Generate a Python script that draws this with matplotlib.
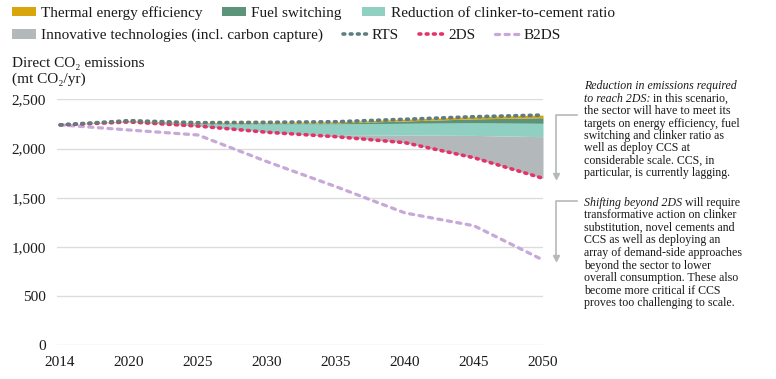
import matplotlib
matplotlib.use('Agg')
import matplotlib.pyplot as plt
import numpy as np

plt.rcParams['font.family'] = ['Liberation Serif', 'DejaVu Serif']
plt.rcParams['text.color'] = '#1a1a1a'

years = ['2014', '2020', '2025', '2030', '2035', '2040', '2045', '2050']
rts = [2240, 2283, 2262, 2266, 2272, 2297, 2323, 2340]
two_ds = [2240, 2270, 2228, 2165, 2120, 2059, 1906, 1697]
b2ds = [2240, 2188, 2137, 1866, 1612, 1345, 1215, 867]
# wedges between 2DS (bottom) and RTS (top)
innovative = [0, 0, 0, 5, 20, 78, 227, 423]
clinker = [0, 3, 23, 80, 110, 119, 128, 136]
fuel = [0, 2, 3, 6, 10, 24, 40, 57]
thermal = [0, 8, 8, 10, 12, 17, 22, 27]

W, H = 776, 379
fig = plt.figure(figsize=(W / 100, H / 100), dpi=100)
ax = fig.add_axes([57 / W, 1 - 345.3 / H, (543 - 57) / W, (345.3 - 99.3) / H])

x = np.arange(len(years))
layers = [
	(innovative, '#b3b9ba', 'Innovative technologies (incl. carbon capture)'),
	(clinker, '#8fd0c3', 'Reduction of clinker-to-cement ratio'),
	(fuel, '#5b9478', 'Fuel switching'),
	(thermal, '#d8a60c', 'Thermal energy efficiency'),
]
base = np.array(two_ds, dtype=float)
fills = {}
for vals, col, lab in layers:
	top = base + np.array(vals)
	fills[lab] = ax.fill_between(x, base, top, color=col, lw=0, label=lab, zorder=2)
	base = top

l_b2 = ax.plot(x, b2ds, color='#c7a8d8', lw=2.3, ls=(0, (1.3, 1.7)), dash_capstyle='round', zorder=3, label='B2DS')[0]
l_2 = ax.plot(x, two_ds, color='#e5336a', lw=2.6, ls=(0, (0.5, 1.5)), dash_capstyle='round', zorder=4, label='2DS')[0]
l_rts = ax.plot(x, rts, color='#5f7d80', lw=2.6, ls=(0, (0.5, 1.5)), dash_capstyle='round', zorder=5, label='RTS')[0]

ax.set_xlim(-0.045, 7.0)
ax.set_ylim(0, 2500)
ax.set_xticks(x)
ax.set_xticklabels(years)
ax.set_yticks([0, 500, 1000, 1500, 2000, 2500])
ax.set_yticklabels(['0', '500', '1,000', '1,500', '2,000', '2,500'])
ax.tick_params(length=0, labelsize=11, colors='#1a1a1a')
ax.tick_params(axis='x', pad=8)
ax.tick_params(axis='y', pad=8)
ax.grid(axis='y', color='#dcdcdc', lw=1)
ax.set_axisbelow(True)
for s in ax.spines.values():
	s.set_visible(False)

# legend
leg_kw = dict(loc='upper left', frameon=False, fontsize=11, borderaxespad=0, borderpad=0,
	handlelength=1.55, handleheight=0.55, handletextpad=0.35, columnspacing=1.3)
lab1 = ['Thermal energy efficiency', 'Fuel switching', 'Reduction of clinker-to-cement ratio']
fig.legend([fills[k] for k in lab1], lab1, ncol=3, bbox_to_anchor=(12 / W, 1 - 6 / H), **leg_kw)
lab2 = ['Innovative technologies (incl. carbon capture)', 'RTS', '2DS', 'B2DS']
fig.legend([fills[lab2[0]], l_rts, l_2, l_b2], lab2, ncol=4, bbox_to_anchor=(12 / W, 1 - 29 / H), **leg_kw)

fig.text(12 / W, 1 - 57 / H, 'Direct CO\u2082 emissions\n(mt CO\u2082/yr)', fontsize=11, va='top', ha='left', linespacing=1.2)

# brackets
gray = '#b5b9b9'
ax.plot([7.49, 7.19, 7.19], [2340, 2340, 1720], color=gray, lw=1.2, clip_on=False)
ax.plot([7.19], [1720], marker='v', color=gray, ms=4, clip_on=False)
ax.plot([7.49, 7.19, 7.19], [1470, 1470, 890], color=gray, lw=1.2, clip_on=False)
ax.plot([7.19], [890], marker='v', color=gray, ms=4, clip_on=False)

# annotation text
tx = 584 / W
fs = 8.6
ls = 12.5 / H
y0 = 1 - 80 / H
fig.text(tx, y0, 'Reduction in emissions required', fontsize=fs, style='italic', va='top')
t1 = fig.text(tx, y0 - ls, 'to reach 2DS:', fontsize=fs, style='italic', va='top')
ax.annotate(' in this scenario,', xy=(1, 0), xycoords=t1, va='bottom', ha='left', fontsize=fs, annotation_clip=False)
rest1 = ['the sector will have to meet its', 'targets on energy efficiency, fuel',
	'switching and clinker ratio as', 'well as deploy CCS at',
	'considerable scale. CCS, in', 'particular, is currently lagging.']
for i, s in enumerate(rest1):
	fig.text(tx, y0 - (i + 2) * ls, s, fontsize=fs, va='top')

y1 = 1 - 197 / H
t2 = fig.text(tx, y1, 'Shifting beyond 2DS', fontsize=fs, style='italic', va='top')
ax.annotate(' will require', xy=(1, 0), xycoords=t2, va='bottom', ha='left', fontsize=fs, annotation_clip=False)
rest2 = ['transformative action on clinker', 'substitution, novel cements and',
	'CCS as well as deploying an', 'array of demand-side approaches',
	'beyond the sector to lower', 'overall consumption. These also',
	'become more critical if CCS', 'proves too challenging to scale.']
for i, s in enumerate(rest2):
	fig.text(tx, y1 - (i + 1) * ls, s, fontsize=fs, va='top')

fig.savefig('out.png', dpi=100)
